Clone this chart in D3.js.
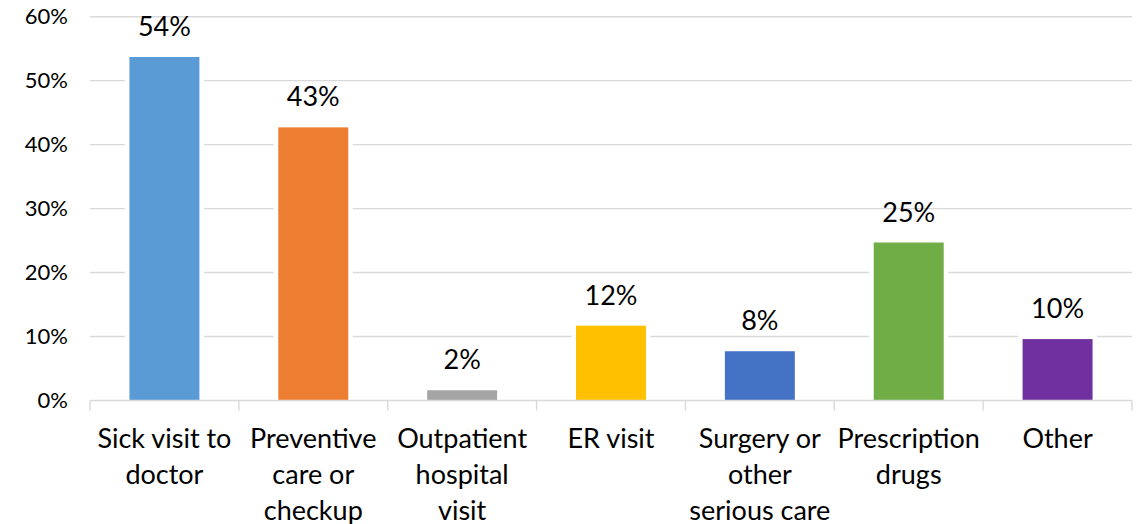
<!DOCTYPE html>
<html><head><meta charset="utf-8">
<script src="https://cdn.jsdelivr.net/npm/d3@7"></script>
<style>
html,body{margin:0;padding:0;background:#fff;}
svg{display:block;}
text{font-family:Lato,"Open Sans",sans-serif;fill:#000;}
</style></head><body>
<svg id="chart" width="1138" height="524"></svg>
<script>
const categories = ["Sick visit to\ndoctor","Preventive\ncare or\ncheckup","Outpatient\nhospital\nvisit","ER visit","Surgery or\nother\nserious care","Prescription\ndrugs","Other"];
const values = [53.7, 42.7, 1.6, 11.7, 7.7, 24.7, 9.6];
const valueLabels = ["54%","43%","2%","12%","8%","25%","10%"];
const colors = ["#5B9BD5","#ED7D31","#A5A5A5","#FFC000","#4472C4","#70AD47","#7030A0"];
const yTicks = [0,10,20,30,40,50,60];
const yTickLabels = ["0%","10%","20%","30%","40%","50%","60%"];

(function(){
const svg = d3.select("#chart");
const mLeft = 90, mRight = 1132, mTop = 16.7, mBottom = 400.5;
const x = d3.scaleBand().domain(d3.range(categories.length)).range([mLeft,mRight]).paddingInner(0.53).paddingOuter(0.265);
const y = d3.scaleLinear().domain([0,60]).range([mBottom,mTop]);

// gridlines
svg.append("g").selectAll("line").data(yTicks.filter(d=>d>0)).join("line")
  .attr("x1",mLeft).attr("x2",mRight).attr("y1",d=>y(d)).attr("y2",d=>y(d))
  .attr("stroke","#d9d9d9").attr("stroke-width",1.4);

// y tick labels
svg.append("g").selectAll("text").data(yTicks).join("text")
  .attr("x",68).attr("y",d=>y(d)).attr("dy","0.35em").attr("text-anchor","end")
  .style("font-size","22px").text((d,i)=>yTickLabels[i]);

// bars with white border
const bars = svg.append("g");
bars.selectAll("rect.bg").data(values).join("rect").attr("class","bg")
  .attr("x",(d,i)=>x(i)-4.5).attr("width",x.bandwidth()+9)
  .attr("y",d=>y(d)-4.5).attr("height",d=>mBottom-y(d)+4.5).attr("fill","#fff");
bars.selectAll("rect.bar").data(values).join("rect").attr("class","bar")
  .attr("x",(d,i)=>x(i)).attr("width",x.bandwidth())
  .attr("y",d=>y(d)).attr("height",d=>mBottom-y(d)).attr("fill",(d,i)=>colors[i]);

// x axis line and ticks
const bounds = d3.range(categories.length+1).map(i=>mLeft + i*(mRight-mLeft)/categories.length);
svg.append("line").attr("x1",mLeft).attr("x2",mRight).attr("y1",mBottom).attr("y2",mBottom)
  .attr("stroke","#d9d9d9").attr("stroke-width",1.4);
svg.append("g").selectAll("line").data(bounds).join("line")
  .attr("x1",d=>d).attr("x2",d=>d).attr("y1",mBottom).attr("y2",mBottom+10)
  .attr("stroke","#d9d9d9").attr("stroke-width",1.4);

// data labels
svg.append("g").selectAll("text").data(values).join("text")
  .attr("x",(d,i)=>x(i)+x.bandwidth()/2).attr("y",d=>y(d)-21)
  .attr("text-anchor","middle").style("font-size","27px").text((d,i)=>valueLabels[i]);

// category labels
const cl = svg.append("g");
categories.forEach((c,i)=>{
  const cx = x(i)+x.bandwidth()/2;
  const t = cl.append("text").attr("text-anchor","middle").style("font-size","27px")
    .attr("x",cx).attr("y",448);
  c.split("\n").forEach((ln,j)=>{
    t.append("tspan").attr("x",cx).attr("y",448+j*35.8).text(ln);
  });
});
})();
</script>
</body></html>
